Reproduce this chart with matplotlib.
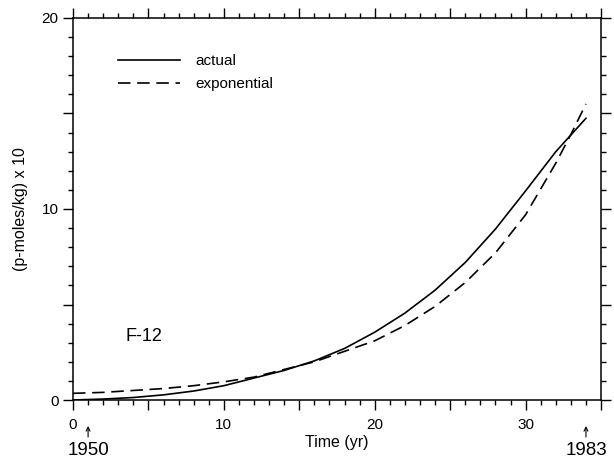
import matplotlib
matplotlib.use("Agg")
import matplotlib.pyplot as plt
from matplotlib.ticker import MultipleLocator, FuncFormatter
import numpy as np

plt.rcParams['font.family'] = ['Liberation Sans', 'DejaVu Sans']

#### donnees
t_actual = [0, 2, 4, 6, 8, 10, 12, 14, 16, 18, 20, 22, 24, 26, 28, 30, 32, 34]
actual = [0.0, 0.05, 0.13, 0.27, 0.47, 0.75, 1.15, 1.55, 2.05, 2.7, 3.55,
          4.55, 5.75, 7.2, 8.95, 10.95, 13.0, 14.75]

t_expo = [0, 2, 4, 6, 8, 10, 12, 14, 16, 18, 20, 22, 24, 26, 28, 30, 32, 33, 34]
expo = [0.35, 0.4, 0.5, 0.6, 0.75, 0.95, 1.2, 1.6, 2.0, 2.55, 3.1, 3.9,
        4.9, 6.15, 7.7, 9.7, 12.4, 13.9, 15.5]

series_names = ['actual', 'exponential']
x_ticklabels = ['0', '10', '20', '30']
y_ticklabels = ['0', '10', '20']
year_marks = [1, 34]
year_labels = ['1950', '1983']

fig = plt.figure(figsize=(6.14, 4.61), dpi=100)
ax = fig.add_axes([0.1189, 0.1323, 0.86, 0.8287])

ax.plot(t_actual, actual, color='black', lw=1.2, label=series_names[0])
ax.plot(t_expo, expo, color='black', lw=1.2, dashes=(7.5, 4), label=series_names[1])

ax.set_xlim(0, 35)
ax.set_ylim(0, 20)

ax.xaxis.set_major_locator(MultipleLocator(5))
ax.xaxis.set_minor_locator(MultipleLocator(1))
ax.yaxis.set_major_locator(MultipleLocator(5))
ax.yaxis.set_minor_locator(MultipleLocator(1))


def fmt_x(v, pos):
    s = '%d' % round(v)
    return s if s in x_ticklabels else ''


def fmt_y(v, pos):
    s = '%d' % round(v)
    return s if s in y_ticklabels else ''


ax.xaxis.set_major_formatter(FuncFormatter(fmt_x))
ax.yaxis.set_major_formatter(FuncFormatter(fmt_y))

ax.tick_params(which='both', direction='out', top=True, right=True,
               width=1.0, labelsize=11)
ax.tick_params(which='major', length=7)
ax.tick_params(which='minor', length=3.5)
ax.tick_params(axis='x', pad=6)
for sp in ax.spines.values():
    sp.set_linewidth(1.1)

ax.set_ylabel('(p-moles/kg) x 10', fontsize=11.5, labelpad=10)
ax.text(17.5, -0.11, 'Time (yr)', transform=ax.get_xaxis_transform(),
        ha='center', va='center', fontsize=11.5)

# fleches des annees
for x, lab in zip(year_marks, year_labels):
    ax.annotate('', xy=(x, -0.068), xycoords=ax.get_xaxis_transform(),
                xytext=(x, -0.097), textcoords=ax.get_xaxis_transform(),
                arrowprops=dict(arrowstyle='->', lw=0.8, color='black',
                                shrinkA=0, shrinkB=0, mutation_scale=7),
                annotation_clip=False)
    ax.text(x, -0.132, lab, transform=ax.get_xaxis_transform(),
            ha='center', va='center', fontsize=13.5)

ax.text(3.45, 3.3, 'F-12', fontsize=13, ha='left', va='center')

ax.legend(loc='upper left', bbox_to_anchor=(0.085, 0.905), frameon=False,
          handlelength=4.05, handletextpad=1.05, labelspacing=0.6,
          borderpad=0, borderaxespad=0, fontsize=11)

plt.savefig('out.png', dpi=100)
